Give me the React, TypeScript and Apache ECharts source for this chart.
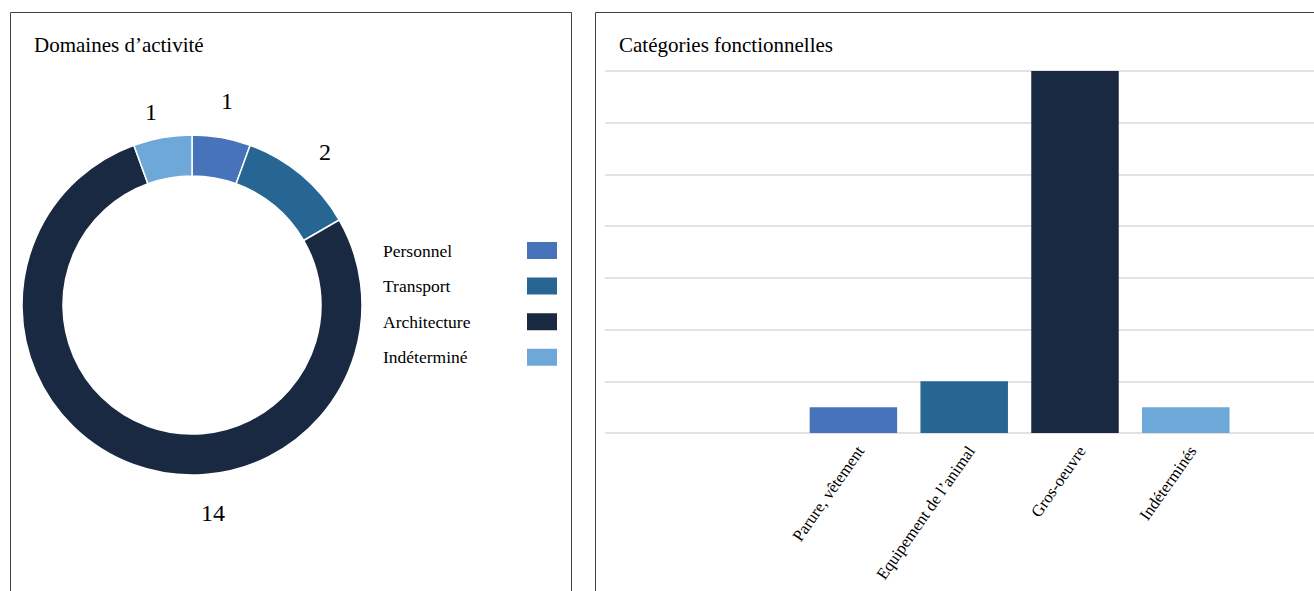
import React, { useEffect, useRef } from "react";
import * as echarts from "echarts";

const domainNames = ["Personnel", "Transport", "Architecture", "Indéterminé"];
const domainValues = [1, 2, 14, 1];
const domainColors = ["#4673BA", "#276593", "#1A2942", "#6EA8D8"];

const catNames = ["Parure, vêtement", "Equipement de l’animal", "Gros-oeuvre", "Indéterminés"];
const catValues = [1, 2, 14, 1];
const catColors = ["#4673BA", "#276593", "#1A2942", "#6EA8D8"];

const FONT = "'Liberation Serif', 'Times New Roman', serif";

// label placement (style): offset of each donut label centre from the donut centre
const PIE_CENTER = [192, 305];
const pieLabelOffsets = [
  [35, -204],
  [133, -153],
  [21, 208],
  [-41, -193],
];

export default function App() {
  const ref = useRef<HTMLDivElement>(null);
  useEffect(() => {
    const chart = echarts.init(ref.current!, undefined, { renderer: "svg" });
    chart.setOption({
      animation: false,
      title: [
        {
          text: "Domaines d’activité",
          left: 29,
          top: 29,
          textStyle: { fontFamily: FONT, fontSize: 21, fontWeight: "normal", color: "#000" },
        },
        {
          text: "Catégories fonctionnelles",
          left: 614,
          top: 29,
          textStyle: { fontFamily: FONT, fontSize: 21, fontWeight: "normal", color: "#000" },
        },
      ],
      graphic: [
        {
          type: "rect",
          shape: { x: 10.5, y: 12.5, width: 561, height: 700 },
          style: { fill: "none", stroke: "#404040", lineWidth: 1 },
          silent: true,
        },
        {
          type: "rect",
          shape: { x: 595.5, y: 12.5, width: 800, height: 700 },
          style: { fill: "none", stroke: "#404040", lineWidth: 1 },
          silent: true,
        },
      ],
      legend: {
        orient: "vertical",
        left: 378,
        top: 235,
        align: "right",
        itemWidth: 32,
        itemHeight: 19,
        itemGap: 14.6,
        icon: "rect",
        data: domainNames,
        formatter: (name: string) => `{a|${name}}`,
        textStyle: {
          fontFamily: FONT,
          fontSize: 17.5,
          color: "#000",
          rich: {
            a: { width: 138, height: 19, lineHeight: 19, align: "left", fontFamily: FONT, fontSize: 17.5, color: "#000" },
          },
        },
      },
      grid: [
        { left: 605, right: 0, top: 71, bottom: 591 - 433 },
        { left: 798, width: 443.2, top: 71, bottom: 591 - 433 },
      ],
      xAxis: [
        { type: "category", gridIndex: 0, data: [""], show: false },
        {
          type: "category",
          gridIndex: 1,
          data: catNames,
          axisLine: { show: false },
          axisTick: { show: false },
          axisLabel: {
            rotate: 55,
            margin: 10,
            interval: 0,
            verticalAlign: "top",
            fontFamily: FONT,
            fontSize: 16.5,
            color: "#000",
          },
        },
      ],
      yAxis: [
        {
          type: "value",
          gridIndex: 0,
          min: 0,
          max: 14,
          interval: 2,
          axisLine: { show: false },
          axisTick: { show: false },
          axisLabel: { show: false },
          splitLine: { lineStyle: { color: "#d9d9d9", width: 1.5 } },
        },
        {
          type: "value",
          gridIndex: 1,
          min: 0,
          max: 14,
          interval: 2,
          show: false,
          splitLine: { show: false },
        },
      ],
      series: [
        {
          type: "pie",
          center: PIE_CENTER,
          radius: [129, 170],
          startAngle: 90,
          clockwise: true,
          itemStyle: { borderColor: "#fff", borderWidth: 1.5 },
          label: {
            show: true,
            position: "outside",
            formatter: "{c}",
            fontFamily: FONT,
            fontSize: 24,
            color: "#000",
          },
          labelLine: { show: false },
          labelLayout: (params: any) => {
            const o = pieLabelOffsets[params.dataIndex];
            return {
              x: PIE_CENTER[0] + o[0],
              y: PIE_CENTER[1] + o[1],
              align: "center",
              verticalAlign: "middle",
            };
          },
          data: domainNames.map((n, i) => ({
            name: n,
            value: domainValues[i],
            itemStyle: { color: domainColors[i] },
          })),
        },
        {
          type: "bar",
          xAxisIndex: 1,
          yAxisIndex: 1,
          barWidth: 87.5,
          data: catValues.map((v, i) => ({ value: v, itemStyle: { color: catColors[i] } })),
        },
      ],
    });
    return () => chart.dispose();
  }, []);
  return (
    <div
      ref={ref}
      style={{ position: "absolute", left: 0, top: 0, width: 1314, height: 591 }}
    />
  );
}
